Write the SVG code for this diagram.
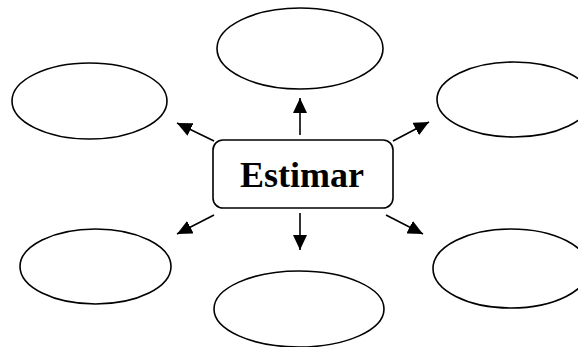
<svg xmlns="http://www.w3.org/2000/svg" width="578" height="347" viewBox="0 0 578 347">
<style>
.n{fill:#fff;stroke:#000;stroke-width:1.6}
.c{stroke:#000;stroke-width:1.6;fill:none}
.t{font-family:"Liberation Serif","Times New Roman",serif;font-weight:bold;font-size:36px;fill:#000}
</style>
<defs>
<marker id="ah" markerUnits="userSpaceOnUse" markerWidth="16" markerHeight="14" refX="15" refY="7" orient="auto" viewBox="0 0 16 14">
<path d="M0,0 L15,7 L0,14 Z" fill="#000"/>
</marker>
</defs>
<rect width="578" height="347" fill="#fff"/>
<g id="connectors">
<line class="c" x1="300" y1="135" x2="300" y2="98" marker-end="url(#ah)"/>
<line class="c" x1="300" y1="213" x2="300" y2="250" marker-end="url(#ah)"/>
<line class="c" x1="214" y1="141" x2="177" y2="123" marker-end="url(#ah)"/>
<line class="c" x1="393" y1="141" x2="429" y2="122" marker-end="url(#ah)"/>
<line class="c" x1="214" y1="215" x2="177" y2="234" marker-end="url(#ah)"/>
<line class="c" x1="386" y1="215" x2="423" y2="234" marker-end="url(#ah)"/>
</g>
<g id="center">
<rect class="n" x="213" y="140" width="180" height="68" rx="10"/>
<text class="t" x="302" y="187" text-anchor="middle">Estimar</text>
</g>
<g id="top"><ellipse class="n" cx="300" cy="48.5" rx="83" ry="40.5"/></g>
<g id="top-left"><ellipse class="n" cx="89.5" cy="101" rx="77.5" ry="38"/></g>
<g id="top-right"><ellipse class="n" cx="514" cy="99.5" rx="77" ry="37.5"/></g>
<g id="bottom-left"><ellipse class="n" cx="95.5" cy="266.5" rx="75.5" ry="37.5"/></g>
<g id="bottom-right"><ellipse class="n" cx="511" cy="268.5" rx="78" ry="39.5"/></g>
<g id="bottom"><ellipse class="n" cx="299" cy="309" rx="85" ry="38"/></g>
</svg>
